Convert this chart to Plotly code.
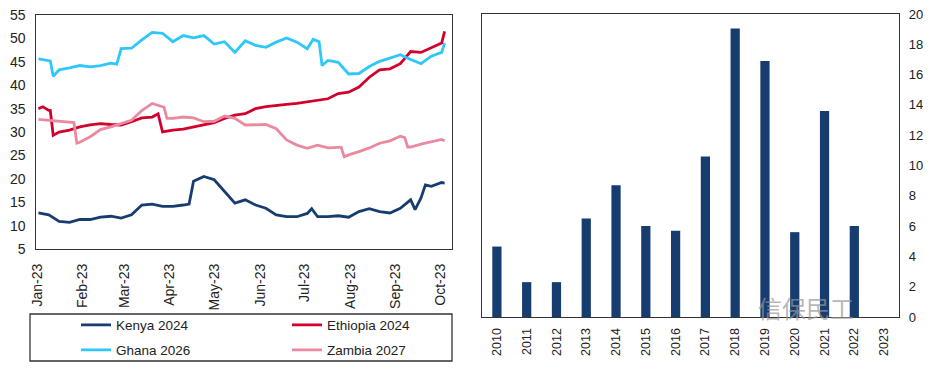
import plotly.graph_objects as go

# ---------------- Left chart data (yields, %) ----------------
kenya_dates = ["2023-01-02","2023-01-09","2023-01-16","2023-01-23","2023-01-30","2023-02-06","2023-02-13",
               "2023-02-20","2023-02-27","2023-03-06","2023-03-13","2023-03-20","2023-03-27","2023-04-03",
               "2023-04-10","2023-04-14","2023-04-17","2023-04-24","2023-05-01","2023-05-08","2023-05-15",
               "2023-05-22","2023-05-29","2023-06-05","2023-06-12","2023-06-19","2023-06-26","2023-07-03",
               "2023-07-06","2023-07-10","2023-07-17","2023-07-24","2023-07-31","2023-08-07","2023-08-14",
               "2023-08-21","2023-08-28","2023-09-04","2023-09-11","2023-09-14","2023-09-18","2023-09-21",
               "2023-09-25","2023-10-02","2023-10-04"]
kenya_vals = [12.7,12.3,10.9,10.7,11.3,11.3,11.8,12.0,11.6,12.3,14.4,14.6,14.1,14.1,14.4,14.6,19.5,20.5,19.8,
              17.3,14.8,15.5,14.4,13.7,12.3,11.9,11.9,12.6,13.6,11.9,11.9,12.1,11.8,13.0,13.6,13.0,12.7,13.7,
              15.5,13.4,15.9,18.7,18.4,19.2,19.1]

ethiopia_dates = ["2023-01-02","2023-01-05","2023-01-09","2023-01-10","2023-01-12","2023-01-16","2023-01-23",
                  "2023-01-30","2023-02-06","2023-02-13","2023-02-20","2023-02-27","2023-03-06","2023-03-13",
                  "2023-03-20","2023-03-24","2023-03-27","2023-04-03","2023-04-10","2023-04-17","2023-04-24",
                  "2023-05-01","2023-05-08","2023-05-15","2023-05-22","2023-05-29","2023-06-05","2023-06-12",
                  "2023-06-19","2023-06-26","2023-07-03","2023-07-10","2023-07-17","2023-07-24","2023-07-31",
                  "2023-08-07","2023-08-14","2023-08-21","2023-08-28","2023-09-04","2023-09-11","2023-09-18",
                  "2023-09-25","2023-10-02","2023-10-04"]
ethiopia_vals = [35.0,35.4,34.6,34.6,29.3,30.0,30.4,31.1,31.5,31.8,31.6,31.5,32.2,33.0,33.2,33.9,30.0,30.4,
                 30.6,31.1,31.5,32.0,32.9,33.6,33.9,35.0,35.4,35.7,35.9,36.1,36.4,36.8,37.1,38.2,38.5,39.6,
                 41.7,43.3,43.5,44.6,47.2,47.0,48.0,49.0,51.5]

ghana_dates = ["2023-01-02","2023-01-09","2023-01-10","2023-01-12","2023-01-16","2023-01-23","2023-01-30",
               "2023-02-06","2023-02-13","2023-02-20","2023-02-24","2023-02-27","2023-03-06","2023-03-13",
               "2023-03-20","2023-03-27","2023-04-03","2023-04-10","2023-04-17","2023-04-24","2023-05-01",
               "2023-05-08","2023-05-15","2023-05-22","2023-05-29","2023-06-05","2023-06-12","2023-06-19",
               "2023-06-26","2023-07-03","2023-07-07","2023-07-11","2023-07-13","2023-07-17","2023-07-24",
               "2023-07-31","2023-08-07","2023-08-14","2023-08-21","2023-08-28","2023-09-04","2023-09-11",
               "2023-09-18","2023-09-25","2023-10-02","2023-10-04"]
ghana_vals = [45.6,45.3,45.2,41.9,43.3,43.7,44.2,43.9,44.2,44.7,44.5,47.8,47.9,49.7,51.3,51.1,49.3,50.6,50.1,
              50.6,48.8,49.3,47.0,49.5,48.5,48.1,49.2,50.1,49.2,47.8,49.8,49.3,44.2,45.3,44.9,42.4,42.5,44.0,
              45.1,45.8,46.5,45.5,44.6,46.2,47.0,49.0]

zambia_dates = ["2023-01-02","2023-01-09","2023-01-16","2023-01-23","2023-01-26","2023-01-28","2023-01-30",
                "2023-02-06","2023-02-13","2023-02-20","2023-02-27","2023-03-06","2023-03-13","2023-03-20",
                "2023-03-27","2023-03-28","2023-03-30","2023-04-03","2023-04-10","2023-04-17","2023-04-24",
                "2023-05-01","2023-05-08","2023-05-15","2023-05-22","2023-05-29","2023-06-05","2023-06-12",
                "2023-06-19","2023-06-26","2023-07-03","2023-07-10","2023-07-17","2023-07-24","2023-07-26",
                "2023-07-28","2023-07-31","2023-08-07","2023-08-14","2023-08-21","2023-08-28","2023-09-04",
                "2023-09-07","2023-09-09","2023-09-11","2023-09-18","2023-09-25","2023-10-02","2023-10-04"]
zambia_vals = [32.7,32.5,32.3,32.2,32.0,27.6,27.8,29.0,30.5,31.1,31.8,32.5,34.6,36.1,35.4,35.3,32.9,32.9,33.2,
               33.0,32.2,32.3,33.4,32.9,31.5,31.6,31.6,30.7,28.3,27.2,26.5,27.2,26.6,26.7,26.7,24.7,25.1,25.8,
               26.6,27.6,28.1,29.1,28.8,26.8,26.8,27.4,27.9,28.4,28.1]

month_ticks = ["2023-01-01","2023-02-01","2023-03-01","2023-04-01","2023-05-01","2023-06-01",
               "2023-07-01","2023-08-01","2023-09-01","2023-10-01"]
month_labels = ["Jan-23","Feb-23","Mar-23","Apr-23","May-23","Jun-23","Jul-23","Aug-23","Sep-23","Oct-23"]

# ---------------- Right chart data ----------------
years = ["2010","2011","2012","2013","2014","2015","2016","2017","2018","2019","2020","2021","2022","2023"]
bar_vals = [4.65,2.3,2.3,6.5,8.7,6.0,5.7,10.6,19.05,16.9,5.6,13.6,6.0,None]

NAVY = "#173D70"
RED = "#D2002D"
CYAN = "#2EC7FA"
PINK = "#EA8AA0"
FONT = "Liberation Sans, Arial, sans-serif"

# The page places the figure 8px in from the top-left corner (default body margin),
# so the figure is sized to the remaining window and positions are given in window pixels.
OFF = 8
W, H = 931 - OFF, 370 - OFF
def px(x):
    return (x - OFF) / W
def py(y):
    return 1 - (y - OFF) / H

fig = go.Figure()

series = [
    ("Kenya 2024", kenya_dates, kenya_vals, NAVY, "legend"),
    ("Ethiopia 2024", ethiopia_dates, ethiopia_vals, RED, "legend2"),
    ("Ghana 2026", ghana_dates, ghana_vals, CYAN, "legend3"),
    ("Zambia 2027", zambia_dates, zambia_vals, PINK, "legend4"),
]
for name, d, v, c, lg in series:
    fig.add_trace(go.Scatter(x=d, y=v, mode="lines", name=name,
                             line=dict(color=c, width=2.8), xaxis="x", yaxis="y",
                             legend=lg, showlegend=True))

fig.add_trace(go.Bar(x=years, y=bar_vals, marker=dict(color=NAVY, line=dict(width=0)),
                     width=0.31, xaxis="x2", yaxis="y2", showlegend=False))

frame = dict(showline=True, linecolor="#333333", linewidth=1.3, mirror=True,
             showgrid=False, zeroline=False, ticks="", automargin=False,
             ticklabeloverflow="allow")

fig.update_layout(
    width=W, height=H,
    margin=dict(l=0, r=0, t=0, b=0, autoexpand=False),
    paper_bgcolor="white", plot_bgcolor="white",
    font=dict(family=FONT, color="#222222", size=13),
    xaxis=dict(domain=[px(35.5), px(452)], anchor="y", type="date",
               range=["2022-12-31", "2023-10-09"],
               tickmode="array", tickvals=month_ticks, ticktext=month_labels,
               tickangle=-90, tickfont=dict(size=14), ticklabelstandoff=8, **frame),
    yaxis=dict(domain=[py(249), py(15)], anchor="x", range=[5, 55], dtick=5,
               tickfont=dict(size=14), ticklabelstandoff=6, **frame),
    xaxis2=dict(domain=[px(482), px(899)], anchor="y2", type="category",
                range=[-0.5, 13.5], tickangle=-90, tickfont=dict(size=12.5),
                ticklabelstandoff=5, **frame),
    yaxis2=dict(domain=[py(317), py(14)], anchor="x2", side="right", range=[0, 20], dtick=2,
                tickfont=dict(size=13), ticklabelstandoff=6, **frame),
)

legend_common = dict(orientation="h", xanchor="left", yanchor="middle",
                     bgcolor="rgba(0,0,0,0)", borderwidth=0,
                     font=dict(family=FONT, size=13.5, color="#222222"),
                     itemwidth=30)
fig.update_layout(
    legend=dict(x=px(76), y=py(325), **legend_common),
    legend2=dict(x=px(287), y=py(325), **legend_common),
    legend3=dict(x=px(76), y=py(350), **legend_common),
    legend4=dict(x=px(287), y=py(350), **legend_common),
)

# legend box
fig.add_shape(type="rect", xref="paper", yref="paper",
              x0=px(30), x1=px(452), y0=py(361), y1=py(314),
              line=dict(color="#333333", width=1.3), fillcolor="rgba(0,0,0,0)")

# watermark
fig.add_annotation(x=px(856), y=py(327), xref="paper", yref="paper",
                   text="信保民工", showarrow=False,
                   font=dict(family="Noto Sans CJK SC", size=24, color="rgba(150,150,150,0.7)"))

fig.write_html("out.html")
